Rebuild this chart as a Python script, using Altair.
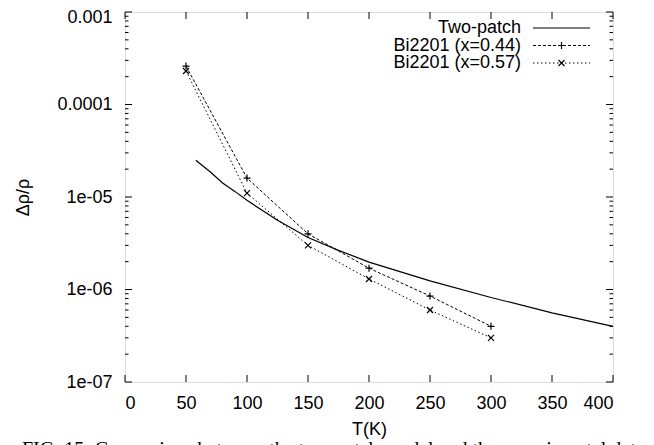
import altair as alt
import pandas as pd

# ---- data ----
tp_T = [58, 70, 80, 90, 100, 125, 150, 175, 200, 250, 300, 350, 400]
tp_v = [2.5e-5, 1.86e-5, 1.42e-5, 1.15e-5, 9.2e-6, 5.6e-6, 3.65e-6, 2.65e-6,
        1.98e-6, 1.24e-6, 8.2e-7, 5.6e-7, 4.0e-7]
bi_T = [50, 100, 150, 200, 250, 300]
bi044 = [2.6e-4, 1.6e-5, 4.0e-6, 1.7e-6, 8.5e-7, 4.0e-7]
bi057 = [2.3e-4, 1.1e-5, 3.0e-6, 1.3e-6, 6.0e-7, 3.0e-7]
series_names = ["Two-patch", "Bi2201 (x=0.44)", "Bi2201 (x=0.57)"]
x_ticks = [0, 50, 100, 150, 200, 250, 300, 350, 400]
y_ticks = [1e-7, 1e-6, 1e-5, 1e-4, 1e-3]
y_tick_labels = ["1e-07", "1e-06", "1e-05", "0.0001", "0.001"]
y_minor = [m * d for d in [1e-7, 1e-6, 1e-5, 1e-4] for m in range(2, 10)]
caption = "FIG. 15: Comparison between the two-patch model and the experimental data"

W, H = 488, 370
TOP = 4
FONT = "Liberation Sans"
FS = 18

tp_df = pd.DataFrame({"T": tp_T, "v": tp_v})
b1_df = pd.DataFrame({"T": bi_T, "v": bi044})
b2_df = pd.DataFrame({"T": bi_T, "v": bi057})

label_expr = " : ".join(
    [f"datum.value > {v*0.5} ? '{l}'" for v, l in zip(y_ticks[::-1], y_tick_labels[::-1])]
) + " : ''"

xs = alt.Scale(domain=[0, 400], nice=False)
ys = alt.Scale(type="log", domain=[1e-7, 1e-3], nice=False)

xenc = alt.X("T:Q", scale=xs, axis=alt.Axis(
    values=x_ticks, ticks=False, domain=False, grid=False, labelFont=FONT,
    labelFontSize=FS, labelColor="black", labelPadding=12, title="T(K)",
    titleFont=FONT, titleFontSize=FS, titleFontWeight="normal",
    titleColor="black", titlePadding=8))
yenc = alt.Y("v:Q", scale=ys, axis=alt.Axis(
    values=y_ticks, labelExpr=label_expr, ticks=False, domain=False, grid=False,
    labelFont=FONT, labelFontSize=FS, labelColor="black", labelPadding=13,
    labelOffset={"condition": {"test": "datum.value > 0.0005", "value": 5}, "value": 0},
    labelBound=False,
    title="Δρ/ρ", titleFont=FONT, titleFontSize=FS, titleFontWeight="normal",
    titleColor="black", titlePadding=24))

PLUS = "M-1,0L1,0M0,-1L0,1"
CROSS = "M-1,-1L1,1M-1,1L1,-1"

tp_line = alt.Chart(tp_df).mark_line(color="black", strokeWidth=1.2).encode(x=xenc, y=yenc)
b1_line = alt.Chart(b1_df).mark_line(color="black", strokeWidth=1, strokeDash=[3, 2]).encode(
    x=alt.X("T:Q", scale=xs), y=alt.Y("v:Q", scale=ys))
b1_pts = alt.Chart(b1_df).mark_point(shape=PLUS, size=49, filled=False, color="black",
                                     strokeWidth=1.2, opacity=1).encode(
    x=alt.X("T:Q", scale=xs), y=alt.Y("v:Q", scale=ys))
b2_line = alt.Chart(b2_df).mark_line(color="black", strokeWidth=1, strokeDash=[1.5, 2.5]).encode(
    x=alt.X("T:Q", scale=xs), y=alt.Y("v:Q", scale=ys))
b2_pts = alt.Chart(b2_df).mark_point(shape=CROSS, size=36, filled=False, color="black",
                                     strokeWidth=1.2, opacity=1).encode(
    x=alt.X("T:Q", scale=xs), y=alt.Y("v:Q", scale=ys))

# inward, mirrored ticks
xt_df = pd.DataFrame({"T": x_ticks})
yt_df = pd.DataFrame({"v": y_ticks})
ym_df = pd.DataFrame({"v": y_minor})
tick_layers = []
for y0, y1 in [(H, H - 7), (0, 7)]:
    tick_layers.append(alt.Chart(xt_df).mark_rule(color="black", strokeWidth=1).encode(
        x=alt.X("T:Q", scale=xs), y=alt.value(y0), y2=alt.value(y1)))
for df, ln in [(yt_df, 7), (ym_df, 3.5)]:
    for x0, x1 in [(0, ln), (W - ln, W)]:
        tick_layers.append(alt.Chart(df).mark_rule(color="black", strokeWidth=1).encode(
            y=alt.Y("v:Q", scale=ys), x=alt.value(x0), x2=alt.value(x1)))

# legend (gnuplot style: label right-aligned, sample on the right)
leg_layers = []
row_y = [16, 33.5, 51]
dashes = [None, [3, 2], [1.5, 2.5]]
shapes = [None, (PLUS, 49), (CROSS, 36)]
for i, name in enumerate(series_names):
    ldf = pd.DataFrame({"label": [name]})
    leg_layers.append(alt.Chart(ldf).mark_text(
        align="right", baseline="middle", font=FONT, fontSize=FS, color="black").encode(
        text="label:N", x=alt.value(396), y=alt.value(row_y[i])))
    kw = dict(color="black", strokeWidth=1.2 if i == 0 else 1)
    if dashes[i]:
        kw["strokeDash"] = dashes[i]
    leg_layers.append(alt.Chart(ldf).mark_rule(**kw).encode(
        x=alt.value(408), x2=alt.value(465), y=alt.value(row_y[i])))
    if shapes[i]:
        leg_layers.append(alt.Chart(ldf).mark_point(
            shape=shapes[i][0], size=shapes[i][1], filled=False, color="black",
            strokeWidth=1.2, opacity=1).encode(x=alt.value(436.5), y=alt.value(row_y[i])))

cap_df = pd.DataFrame({"c": [caption]})
cap = alt.Chart(cap_df).mark_text(
    align="left", baseline="alphabetic", font="Liberation Serif", fontSize=20,
    color="black").encode(text="c:N", x=alt.value(22 - 125), y=alt.value(456 - 8 - TOP))

chart = alt.layer(tp_line, b1_line, b2_line, b1_pts, b2_pts, *tick_layers, *leg_layers, cap).properties(
    width=W, height=H,
    autosize=alt.AutoSizeParams(type="none"),
    padding={"left": 117, "top": TOP, "right": 33, "bottom": 70},
).configure_view(stroke="black", strokeWidth=1.2).configure(background="white")

chart.save("out.html", embed_options={"renderer": "svg", "actions": False})
